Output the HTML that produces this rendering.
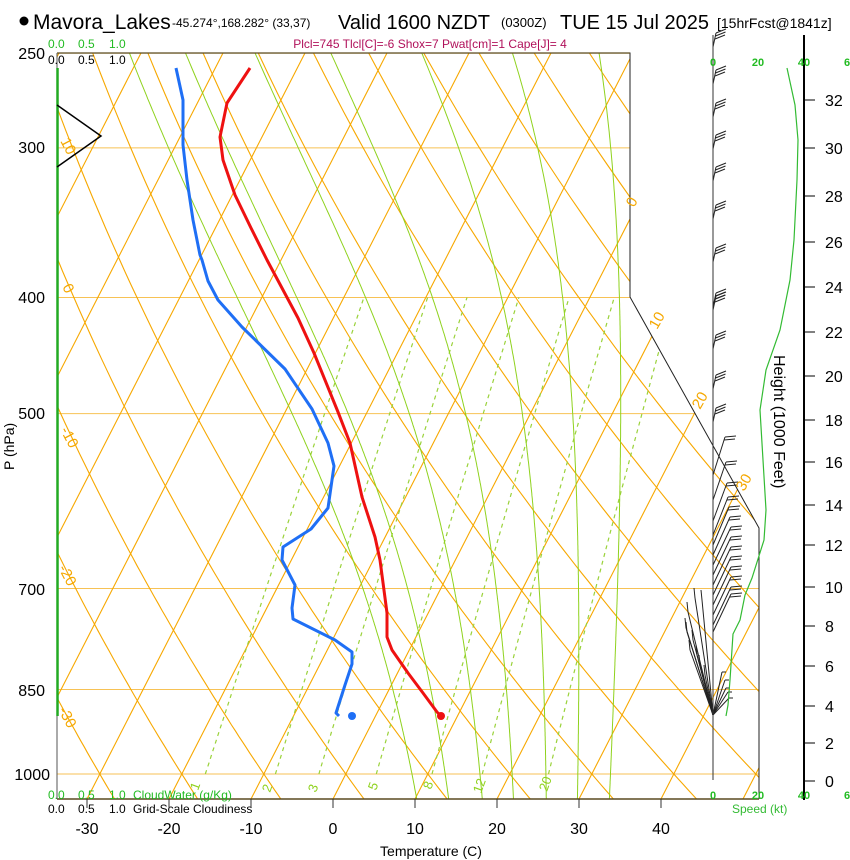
<!DOCTYPE html>
<html><head><meta charset="utf-8"><style>
html,body{margin:0;padding:0;background:#fff;}
svg{display:block;font-family:"Liberation Sans",Arial,sans-serif;}
</style></head><body>
<svg id="s" width="850" height="860" viewBox="0 0 850 860" xmlns="http://www.w3.org/2000/svg">
<defs><clipPath id="c"><polygon points="57,53 630,53 630,297 759,528 759,799 57,799"/></clipPath></defs>
<g id="grid" clip-path="url(#c)"></g>
<!-- frame -->
<polyline points="57,53 630,53 630,297 759,528 759,799" fill="none" stroke="#222" stroke-width="1"/>
<line x1="57" y1="53" x2="630" y2="53" stroke="#5a4a20" stroke-width="1.2"/>
<line x1="57" y1="799" x2="759" y2="799" stroke="#5a4a20" stroke-width="1.5"/>
<line x1="57" y1="53" x2="57" y2="799" stroke="#555" stroke-width="1"/>
<line x1="57.5" y1="68" x2="57.5" y2="716" stroke="#22aa22" stroke-width="2.5"/>
<polyline points="57,105 101,136 57,167" fill="none" stroke="#000" stroke-width="1.5"/>
<g id="prof"></g>
<g id="barbs" stroke="#222" stroke-width="1" fill="none"></g>
<!-- speed axis -->
<line x1="713" y1="35" x2="713" y2="780" stroke="#333" stroke-width="1"/>
<polyline points="787,68 795,105 798,140 797,180 794,240 790,280 780,330 766,370 760,410 763,460 766,510 764,540 752,578 745,595 740,620 733,634 730,680 728,705 726,716" fill="none" stroke="#33bb33" stroke-width="1.2"/>
<line x1="804" y1="35" x2="804" y2="800" stroke="#000" stroke-width="2"/>
<g id="hticks" stroke="#000" stroke-width="1"></g>
<g font-size="16" fill="#000">
<text x="825" y="106">32</text><text x="825" y="154">30</text><text x="825" y="202">28</text><text x="825" y="248">26</text><text x="825" y="293">24</text><text x="825" y="338">22</text><text x="825" y="382">20</text><text x="825" y="426">18</text><text x="825" y="468">16</text><text x="825" y="511">14</text><text x="825" y="551">12</text><text x="825" y="593">10</text><text x="825" y="632">8</text><text x="825" y="672">6</text><text x="825" y="712">4</text><text x="825" y="749">2</text><text x="825" y="787">0</text>
</g>
<text x="0" y="0" font-size="16" transform="translate(774,355) rotate(90)">Height (1000 Feet)</text>
<g font-size="11" font-weight="bold" fill="#22bb22" text-anchor="middle">
<text x="713" y="66">0</text><text x="758" y="66">20</text><text x="804" y="66">40</text><text x="847" y="66">6</text>
<text x="713" y="799">0</text><text x="758" y="799">20</text><text x="804" y="799">40</text><text x="847" y="799">6</text>
</g>
<text x="732" y="813" font-size="12" fill="#33bb33">Speed (kt)</text>
<!-- header -->
<circle cx="24" cy="21" r="4.5" fill="#000"/>
<text x="33" y="29" font-size="21">Mavora_Lakes</text>
<text x="172" y="27" font-size="12">-45.274°,168.282° (33,37)</text>
<text x="338" y="29" font-size="20">Valid 1600 NZDT</text>
<text x="501" y="27" font-size="13">(0300Z)</text>
<text x="560" y="29" font-size="20">TUE 15 Jul 2025</text>
<text x="717" y="28" font-size="14">[15hrFcst@1841z]</text>
<text x="430" y="48" font-size="12" fill="#b0105a" text-anchor="middle">Plcl=745 Tlcl[C]=-6 Shox=7 Pwat[cm]=1 Cape[J]= 4</text>
<g font-size="12">
<text x="48" y="48" fill="#22bb22">0.0</text><text x="78" y="48" fill="#22bb22">0.5</text><text x="109" y="48" fill="#22bb22">1.0</text>
<text x="48" y="64">0.0</text><text x="78" y="64">0.5</text><text x="109" y="64">1.0</text>
<text x="48" y="799" fill="#22bb22">0.0</text><text x="78" y="799" fill="#22bb22">0.5</text><text x="109" y="799" fill="#22bb22">1.0</text><text x="133" y="799" fill="#22bb22">CloudWater (g/Kg)</text>
<text x="48" y="813">0.0</text><text x="78" y="813">0.5</text><text x="109" y="813">1.0</text><text x="133" y="813">Grid-Scale Cloudiness</text>
</g>
<g font-size="16" text-anchor="end">
<text x="45" y="59">250</text><text x="45" y="153">300</text><text x="45" y="303">400</text><text x="45" y="419">500</text><text x="45" y="595">700</text><text x="45" y="696">850</text><text x="50" y="780">1000</text>
</g>
<text x="0" y="0" font-size="14" transform="translate(14,470) rotate(-90)">P (hPa)</text>
<g id="xt" stroke="#333"></g>
<g font-size="16" text-anchor="middle">
<text x="87" y="834">-30</text><text x="169" y="834">-20</text><text x="251" y="834">-10</text><text x="333" y="834">0</text><text x="415" y="834">10</text><text x="497" y="834">20</text><text x="579" y="834">30</text><text x="661" y="834">40</text>
</g>
<text x="431" y="856" font-size="14" text-anchor="middle">Temperature (C)</text>
<g font-size="15" fill="#f5a800">
<text transform="translate(60,141) rotate(62)">10</text>
<text transform="translate(62,287) rotate(62)">0</text>
<text transform="translate(60,430) rotate(62)">-10</text>
<text transform="translate(58,568) rotate(62)">-20</text>
<text transform="translate(58,710) rotate(62)">-30</text>
<text transform="translate(634,208) rotate(-60)">0</text>
<text transform="translate(657,330) rotate(-60)">10</text>
<text transform="translate(700,410) rotate(-60)">20</text>
<text transform="translate(744,492) rotate(-60)">30</text>
</g>
<g font-size="13" fill="#8fd21e">
<text transform="translate(198,791) rotate(-70)">1</text>
<text transform="translate(270,793) rotate(-70)">2</text>
<text transform="translate(316,793) rotate(-70)">3</text>
<text transform="translate(376,791) rotate(-70)">5</text>
<text transform="translate(431,790) rotate(-70)">8</text>
<text transform="translate(481,794) rotate(-70)">12</text>
<text transform="translate(547,792) rotate(-70)">20</text>
</g>
<script>
var NS="http://www.w3.org/2000/svg";
function Y(p){return 774-520*Math.log(1000/p);}
function X(T,p){return 333+8.2*T+0.512*(799-Y(p));}
function el(par,tag,a){var e=document.createElementNS(NS,tag);for(var k in a)e.setAttribute(k,a[k]);par.appendChild(e);return e;}
var g=document.getElementById('grid');
function pl(pts,st){el(g,'polyline',Object.assign({points:pts.map(function(q){return q[0].toFixed(1)+','+q[1].toFixed(1)}).join(' '),fill:'none'},st));}
// isobars
[250,300,400,500,700,850,1000].forEach(function(p){el(g,'line',{x1:57,x2:760,y1:Y(p),y2:Y(p),stroke:'#f7c255','stroke-width':1});});
// isotherms
for(var T=-130;T<=50;T+=10){pl([[X(T,1050),Y(1050)],[X(T,240),Y(240)]],{stroke:'#f7a800','stroke-width':1.1});}
// dry adiabats
for(var th=-40;th<=220;th+=10){var pts=[];for(var p=1050;p>=240;p-=10){var Tk=(th+273.15)*Math.pow(p/1000,0.2857);pts.push([X(Tk-273.15,p),Y(p)]);}pl(pts,{stroke:'#f7a800','stroke-width':1.1});}
// mixing ratio
function es(t){return 6.112*Math.exp(17.67*t/(t+243.5));}
[1,2,3,5,8,12,20].forEach(function(w){var pts=[];for(var p=1000;p>=400;p-=20){var e=w/1000*p/(0.622+w/1000);var l=Math.log(e/6.112);var td=243.5*l/(17.67-l);pts.push([X(td,p),Y(p)]);}pl(pts,{stroke:'#9ad23a','stroke-width':1.2,'stroke-dasharray':'4,4'});});
// moist adiabats
[10.2,14.1,18.2,22,26,29.8,33.7].forEach(function(t0){var pts=[];var Tk=t0+273.15,p=1049;var Rd=287,cp=1005,L=2.5e6,eps=0.622;
while(p>240){pts.push([X(Tk-273.15,p),Y(p)]);var e=es(Tk-273.15),rs=eps*e/(p-e);var dT=(Rd*Tk+L*rs)/(cp+L*L*rs*eps/(Rd*Tk*Tk));var dp=-2;Tk+=dT*dp/p;p+=dp;}
pl(pts,{stroke:'#8fd21e','stroke-width':1});});
// profiles
var pr=document.getElementById('prof');
el(pr,'polyline',{points:"176,68 183,100 183,145 187,180 193,220 200,255 202,260 208,281 218,300 242,327 285,369 312,409 328,443 334,466 328,508 311,529 283,547 282,560 295,585 292,608 293,619 335,640 352,652 352,664 345,685 336,713 339,716",fill:'none',stroke:'#1f6ff5','stroke-width':3,'stroke-linejoin':'round'});
el(pr,'polyline',{points:"250,68 227,103 220,137 223,160 235,195 251,228 267,260 298,318 314,353 338,412 350,443 362,497 375,537 380,560 387,613 387,637 392,650 408,673 423,693 437,712 441,716",fill:'none',stroke:'#ee1111','stroke-width':3,'stroke-linejoin':'round'});
el(pr,'circle',{cx:352,cy:716,r:4,fill:'#1f6ff5'});
el(pr,'circle',{cx:441,cy:716,r:4,fill:'#ee1111'});
// height ticks
var ht=document.getElementById('hticks');
[100,148,196,242,287,332,376,420,462,505,545,587,626,666,706,743,781].forEach(function(y){el(ht,'line',{x1:804,x2:815,y1:y,y2:y});});
var xt=document.getElementById('xt');
[87,169,251,333,415,497,579,661].forEach(function(x){el(xt,'line',{x1:x,x2:x,y1:799,y2:808});});
// barbs
var b=document.getElementById('barbs');
function line(a,c,d,e){el(b,'line',{x1:a,y1:c,x2:d,y2:e});}
[33,70,103,135,167,205,248,293,296,335,375,408].forEach(function(y){line(713,y+14,716,y);for(var i=0;i<3;i++){line(716-i*0.5,y+i*3,726-i*0.5,y-4+i*3);}});
[437,462,483,497,507,517,527,537,547,557,567,577,587,594].forEach(function(y,i){var tx=725+Math.min(i,6);line(713,y+38,tx,y);line(tx,y,tx+11,y-1);line(tx-1,y+3,tx+10,y+2);});
[[686,628],[688,612],[702,600],[695,598],[693,640],[690,650],[687,632],[697,655],[700,665],[705,675]].forEach(function(q){line(713,715,q[0],q[1]);line(q[0],q[1],q[0]-1,q[1]-10);});
[[722,672],[725,680],[726,688],[728,692],[729,698]].forEach(function(q){line(713,715,q[0],q[1]);line(q[0],q[1],q[0]+4,q[1]);});
</script>
</svg>
</body></html>
